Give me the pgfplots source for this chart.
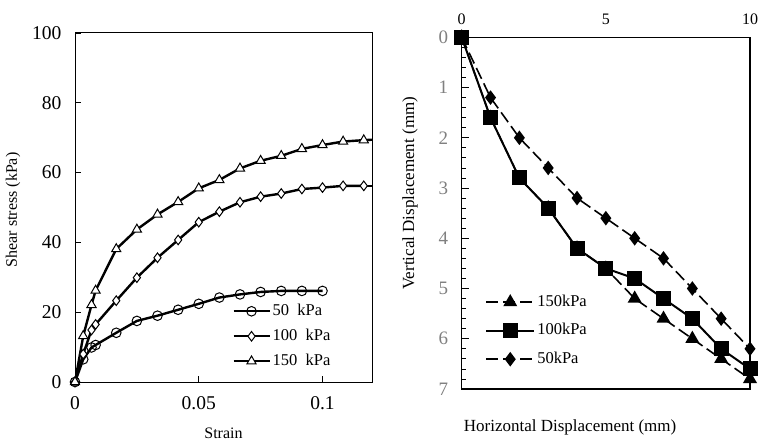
\documentclass[border=0pt]{standalone}
\usepackage{pgfplots}
\pgfplotsset{compat=1.18}
\usepackage{fontspec}
\setmainfont{Liberation Serif}
\begin{document}
\begin{tikzpicture}[x=1pt,y=1pt]
\useasboundingbox (0,0) rectangle (763,445);
% ---------------- left axis ----------------
\begin{axis}[
  scale only axis, width=297pt, height=349pt,
  at={(75pt,63pt)}, anchor=south west,
  xmin=0, xmax=0.12, ymin=0, ymax=100,
  scaled ticks=false,
  xtick={0,0.05,0.1}, xticklabels={0,0.05,0.1},
  ytick={0,20,40,60,80,100}, yticklabels={0,20,40,60,80,100},
  xtick pos=lower, ytick pos=left, tick align=inside,
  major tick length=6pt,
  axis line style={line width=1pt}, tick style={line width=0.8pt,black},
  tick label style={font=\fontsize{19.5}{19.5}\selectfont},
  xticklabel style={yshift=-11pt},
  yticklabel style={xshift=-10pt},
  xlabel={Strain}, ylabel={Shear stress (kPa)},
  label style={font=\fontsize{16}{16}\selectfont},
  xlabel style={at={(axis description cs:0.5,-0.146)},anchor=center},
  ylabel style={at={(axis description cs:-0.209,0.493)},anchor=center},
  legend image code/.code={\draw[mark repeat=2,mark phase=2,#1] plot coordinates {(0pt,0pt) (18pt,0pt) (36pt,0pt)};},
  legend style={draw=none, fill=none, inner sep=0pt, at={(0.529,0.229)}, anchor=north west,
    row sep=7pt, nodes={inner sep=2pt, text height=11pt, text depth=3pt, font=\fontsize{16.5}{16.5}\selectfont}},
  legend cell align=left,
]
\addplot[black, line width=2.4pt, mark=o, mark size=4.8pt, mark options={fill=white, line width=1pt}] coordinates {
(0,0) (0.00333,6.5) (0.00667,9.9) (0.00833,10.6) (0.01667,14.1) (0.025,17.5) (0.03333,19.0) (0.04167,20.7) (0.05,22.4) (0.05833,24.2) (0.06667,25.1) (0.075,25.8) (0.08333,26.1) (0.09167,26.1) (0.1,26.1)};
\addlegendentry{50\ \ kPa}
\addplot[black, line width=2.4pt, mark=diamond*, mark size=4.8pt, mark options={fill=white, line width=1pt}] coordinates {
(0,0) (0.00333,8.0) (0.00667,14.9) (0.00833,16.5) (0.01667,23.3) (0.025,29.9) (0.03333,35.6) (0.04167,40.7) (0.05,45.8) (0.05833,48.8) (0.06667,51.5) (0.075,53.1) (0.08333,54.0) (0.09167,55.3) (0.1,55.7) (0.10833,56.2) (0.11667,56.2)};
\addlegendentry{100\ \ kPa}
\addplot[black, line width=2.4pt, mark=triangle*, mark size=5.3pt, mark options={fill=white, line width=1pt}] coordinates {
(0,0) (0.00333,13.2) (0.00667,22.1) (0.00833,26.2) (0.01667,38.1) (0.025,43.7) (0.03333,48.0) (0.04167,51.6) (0.05,55.5) (0.05833,57.9) (0.06667,61.2) (0.075,63.4) (0.08333,64.8) (0.09167,66.8) (0.1,67.9) (0.10833,68.9) (0.11667,69.3)};
\addlegendentry{150\ \ kPa}
\addplot[black, line width=2.4pt, no marks, forget plot] coordinates {(0.11667,56.2) (0.125,56.2)};
\addplot[black, line width=2.4pt, no marks, forget plot] coordinates {(0.11667,69.3) (0.125,69.6)};
\end{axis}
% ---------------- right axis ----------------
\begin{axis}[
  scale only axis, width=288.3pt, height=351.7pt,
  at={(461.7pt,56pt)}, anchor=south west,
  y dir=reverse,
  xmin=0, xmax=10, ymin=0, ymax=7,
  scaled ticks=false,
  xtick={0,5,10}, xticklabels={0,5,10},
  ytick={0,1,2,3,4,5,6,7}, yticklabels={0,1,2,3,4,5,6,7}, minor y tick num=4,
  xtick pos=upper, xticklabel pos=upper, ytick pos=left, tick align=inside,
  x tick style={draw=none},
  y tick style={line width=0.8pt,black},
  major tick length=7pt, minor tick length=4.5pt,
  axis line style={line width=1.5pt},
  xticklabel style={font=\fontsize{16}{16}\selectfont, yshift=9pt},
  yticklabel style={font=\fontsize{19}{19}\selectfont, text=black!50, xshift=-10pt},
  xlabel={Horizontal Displacement (mm)}, ylabel={Vertical Displacement (mm)},
  label style={font=\fontsize{17}{17}\selectfont},
  xlabel style={at={(axis description cs:0.376,-0.108)},anchor=center},
  ylabel style={at={(axis description cs:-0.179,0.557)},anchor=center},
  legend image code/.code={\draw[mark repeat=2,mark phase=2,#1] plot coordinates {(0pt,0pt) (24pt,0pt) (48pt,0pt)};},
  legend style={draw=none, fill=none, inner sep=0pt, at={(0.081,0.273)}, anchor=north west,
    row sep=10.5pt, nodes={inner sep=2pt, text height=11pt, text depth=3pt, font=\fontsize{16.5}{16.5}\selectfont}},
  legend cell align=left,
]
\addplot[black, line width=1.6pt, dash pattern=on 12pt off 5pt, mark=triangle*, mark size=6.5pt, mark options={solid}] coordinates {
(0,0) (1,1.6) (2,2.8) (3,3.4) (4,4.2) (5,4.6) (6,5.2) (7,5.6) (8,6.0) (9,6.4) (10,6.8)};
\addlegendentry{150kPa}
\addplot[black, line width=2pt, mark=square*, mark size=6.5pt] coordinates {
(0,0) (1,1.6) (2,2.8) (3,3.4) (4,4.2) (5,4.6) (6,4.8) (7,5.2) (8,5.6) (9,6.2) (10,6.6)};
\addlegendentry{100kPa}
\addplot[black, line width=1.6pt, dash pattern=on 12pt off 5pt, mark=diamond*, mark size=6pt, mark options={solid}] coordinates {
(0,0) (1,1.2) (2,2.0) (3,2.6) (4,3.2) (5,3.6) (6,4.0) (7,4.4) (8,5.0) (9,5.6) (10,6.2)};
\addlegendentry{50kPa}
\end{axis}
\end{tikzpicture}
\end{document}
